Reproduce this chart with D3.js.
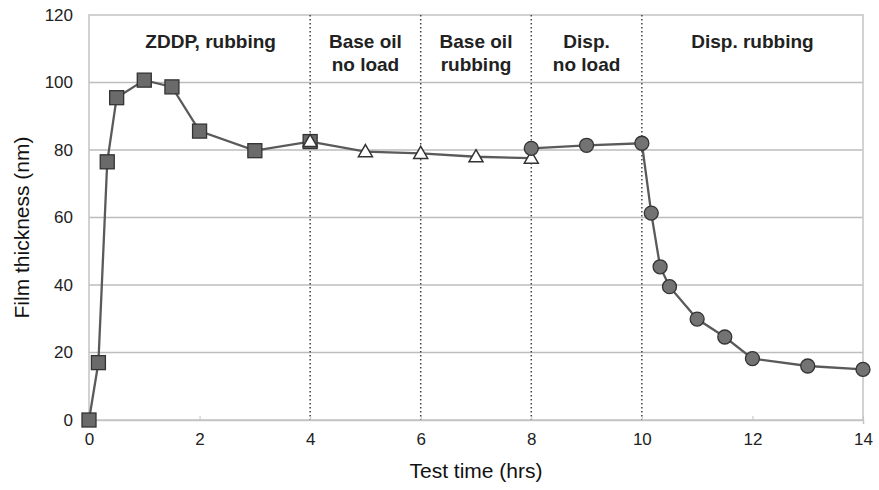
<!DOCTYPE html>
<html>
<head>
<meta charset="utf-8">
<script src="https://cdn.jsdelivr.net/npm/d3@7"></script>
<style>
  body { margin: 0; background: #fff; }
  svg { display: block; font-family: "Liberation Sans", Arial, sans-serif; }
</style>
</head>
<body>
<div id="chart"></div>
<script>
// ZDDP rubbing (squares)
const zddpTime = [0, 0.17, 0.33, 0.5, 1, 1.5, 2, 3, 4];
const zddpFilm = [0, 17, 76.5, 95.5, 100.7, 98.7, 85.6, 79.8, 82.5];
// base oil (triangles)
const baseTime = [4, 5, 6, 7, 8];
const baseFilm = [82.5, 79.5, 79, 78, 77.6];
// dispersant (circles)
const dispTime = [8, 9, 10, 10.17, 10.33, 10.5, 11, 11.5, 12, 13, 14];
const dispFilm = [80.5, 81.4, 82, 61.3, 45.4, 39.5, 29.9, 24.6, 18.2, 16, 15];

const xTicks = [0, 2, 4, 6, 8, 10, 12, 14];
const yTicks = [0, 20, 40, 60, 80, 100, 120];
const phaseBounds = [4, 6, 8, 10];
const phaseLabels = [
  { x: 2.2, lines: ['ZDDP, rubbing'] },
  { x: 5, lines: ['Base oil', 'no load'] },
  { x: 7, lines: ['Base oil', 'rubbing'] },
  { x: 9, lines: ['Disp.', 'no load'] },
  { x: 12, lines: ['Disp. rubbing'] }
];

const W = 879, H = 490;
const margin = { left: 89, right: 16, top: 15, bottom: 70 };

const svg = d3.select('#chart').append('svg').attr('width', W).attr('height', H);

const x = d3.scaleLinear().domain([0, 14]).range([margin.left, W - margin.right]);
const y = d3.scaleLinear().domain([0, 120]).range([H - margin.bottom, margin.top]);

// horizontal grid
svg.append('g').selectAll('line').data(yTicks.slice(1, -1)).join('line')
  .attr('x1', x(0)).attr('x2', x(14))
  .attr('y1', d => y(d)).attr('y2', d => y(d))
  .attr('stroke', '#bdbdbd').attr('stroke-width', 1.5);

// plot frame
svg.append('rect')
  .attr('x', x(0)).attr('y', y(120))
  .attr('width', x(14) - x(0)).attr('height', y(0) - y(120))
  .attr('fill', 'none').attr('stroke', '#c4c4c4').attr('stroke-width', 1.5);

// phase boundaries
svg.append('g').selectAll('line').data(phaseBounds).join('line')
  .attr('x1', d => x(d)).attr('x2', d => x(d))
  .attr('y1', y(120)).attr('y2', y(0))
  .attr('stroke', '#444').attr('stroke-width', 1.5)
  .attr('stroke-dasharray', '1.5,2.5');

// axes
const xAxis = svg.append('g').attr('transform', `translate(0,${y(0)})`)
  .call(d3.axisBottom(x).tickValues(xTicks).tickSize(4).tickPadding(9).tickFormat(d3.format('d')));
xAxis.select('.domain').attr('stroke', '#c4c4c4').attr('stroke-width', 1.5);
xAxis.selectAll('.tick line').attr('stroke', '#c4c4c4').attr('transform', 'translate(0,-4)');
xAxis.selectAll('.tick text').attr('font-size', 17).attr('fill', '#222');

const yAxis = svg.append('g').attr('transform', `translate(${x(0)},0)`)
  .call(d3.axisLeft(y).tickValues(yTicks).tickSize(0).tickPadding(16));
yAxis.select('.domain').remove();
yAxis.selectAll('.tick text').attr('font-size', 17).attr('fill', '#222');

svg.append('text')
  .attr('x', 476).attr('y', 478)
  .attr('text-anchor', 'middle').attr('font-size', 21).attr('fill', '#111')
  .text('Test time (hrs)');

svg.append('text')
  .attr('transform', `translate(29,${(y(0) + y(120)) / 2 + 10}) rotate(-90)`)
  .attr('text-anchor', 'middle').attr('font-size', 21).attr('fill', '#111')
  .text('Film thickness (nm)');

// phase labels
const lab = svg.append('g');
phaseLabels.forEach(p => {
  const t = lab.append('text')
    .attr('x', x(p.x)).attr('y', 48)
    .attr('text-anchor', 'middle').attr('font-size', 19).attr('font-weight', 'bold').attr('fill', '#222');
  p.lines.forEach((l, i) => {
    t.append('tspan').attr('x', x(p.x)).attr('dy', i === 0 ? 0 : 23).text(l);
  });
});

const line = d3.line().x(d => x(d[0])).y(d => y(d[1]));
const zddp = zddpTime.map((t, i) => [t, zddpFilm[i]]);
const base = baseTime.map((t, i) => [t, baseFilm[i]]);
const disp = dispTime.map((t, i) => [t, dispFilm[i]]);

[zddp, base, disp].forEach(s => {
  svg.append('path').datum(s).attr('d', line)
    .attr('fill', 'none').attr('stroke', '#5a5a5a').attr('stroke-width', 2.3);
});

// markers
svg.append('g').selectAll('rect').data(zddp).join('rect')
  .attr('x', d => x(d[0]) - 7).attr('y', d => y(d[1]) - 7)
  .attr('width', 14).attr('height', 14)
  .attr('fill', '#6a6a6a').attr('stroke', '#333').attr('stroke-width', 1.3);

const tri = d3.symbol().type(d3.symbolTriangle).size(85);
svg.append('g').selectAll('path').data(base).join('path')
  .attr('d', tri)
  .attr('transform', d => `translate(${x(d[0])},${y(d[1]) + 1})`)
  .attr('fill', '#fff').attr('stroke', '#333').attr('stroke-width', 1.5);

svg.append('g').selectAll('circle').data(disp).join('circle')
  .attr('cx', d => x(d[0])).attr('cy', d => y(d[1])).attr('r', 7)
  .attr('fill', '#737373').attr('stroke', '#333').attr('stroke-width', 1.3);
</script>
</body>
</html>
